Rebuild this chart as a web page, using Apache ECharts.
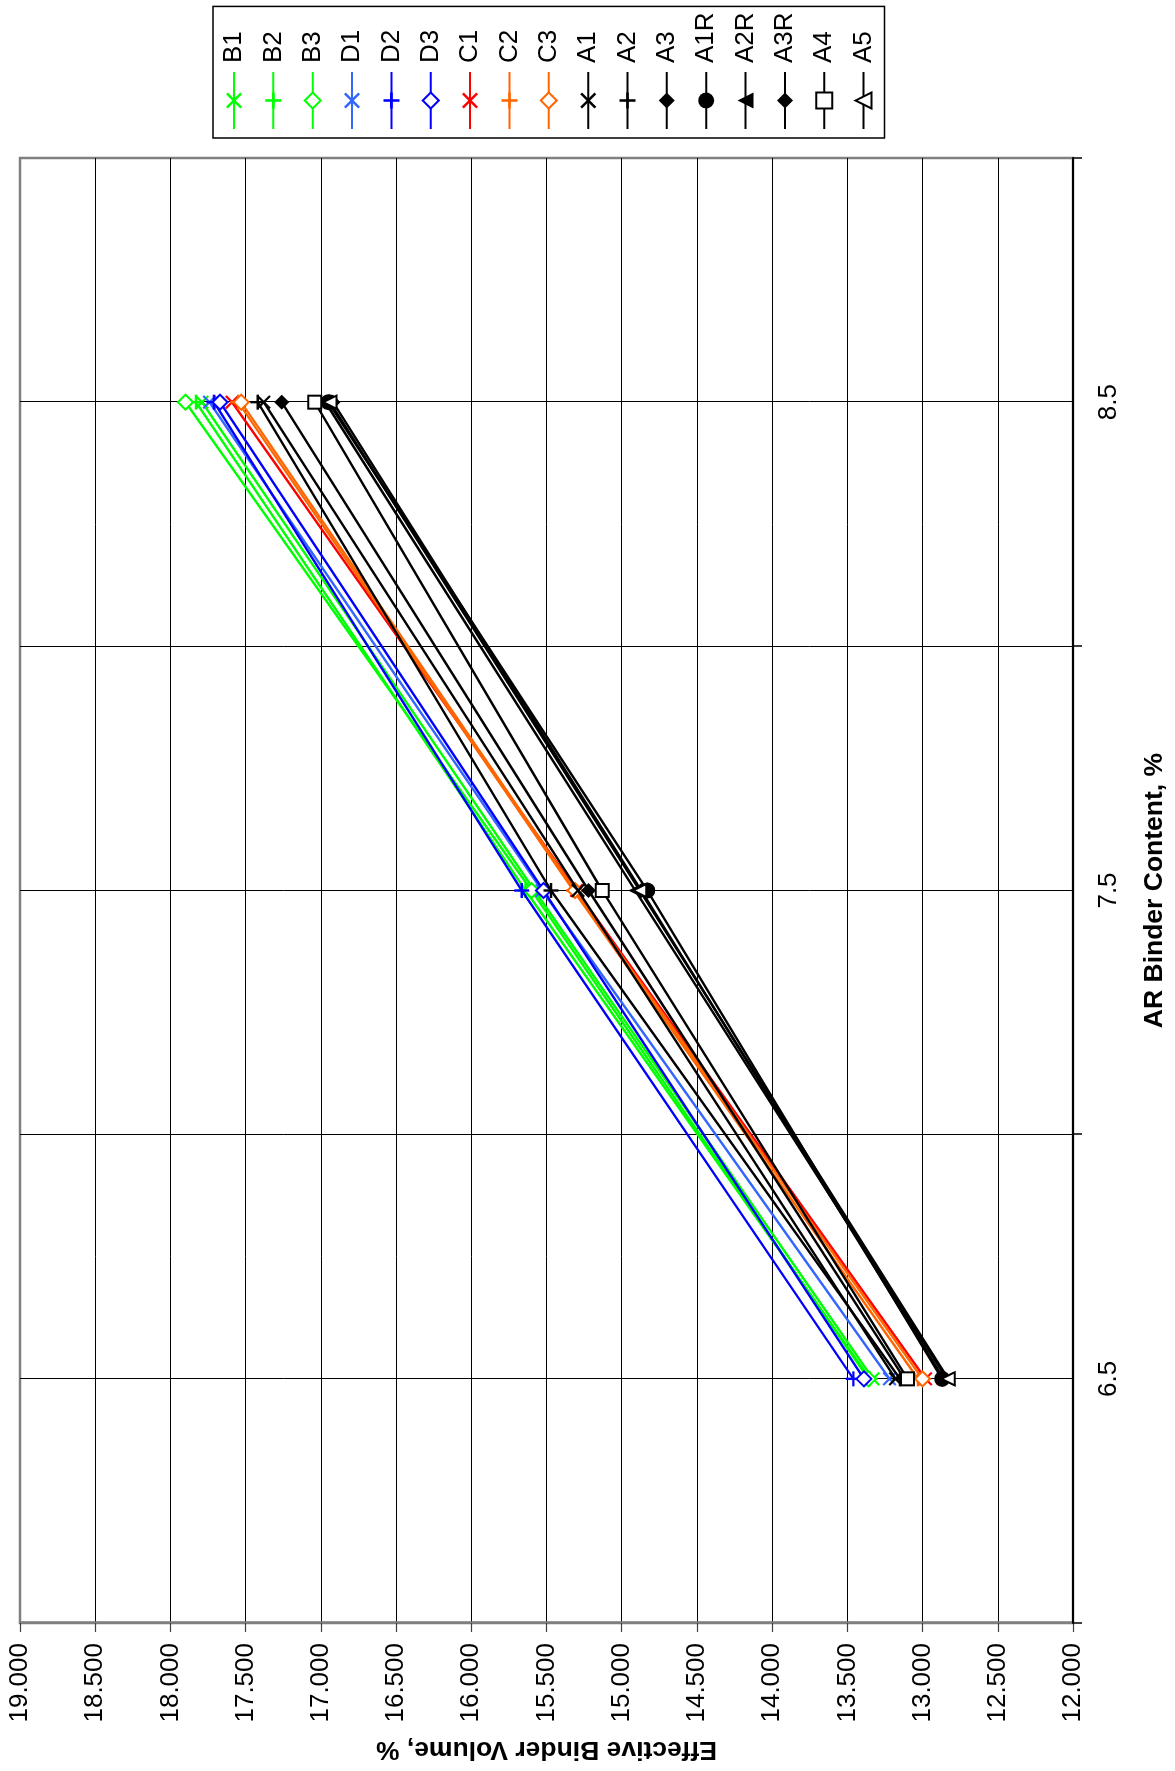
<!DOCTYPE html>
<html>
<head>
<meta charset="utf-8">
<script src="https://cdn.jsdelivr.net/npm/echarts@6/dist/echarts.min.js"></script>
<style>
html,body{margin:0;padding:0;background:#fff;overflow:hidden;width:1175px;height:1771px;}
#wrap{position:absolute;left:0;top:0;width:1771px;height:1175px;transform-origin:0 0;transform:translateY(1771px) rotate(-90deg);}
</style>
</head>
<body>
<div id="wrap"></div>
<script>
// Data
const binderContent = [6.5, 7.5, 8.5];
const xTickLabels = ['6.5', '7.5', '8.5'];
const seriesNames = ['B1','B2','B3','D1','D2','D3','C1','C2','C3','A1','A2','A3','A1R','A2R','A3R','A4','A5'];
const B1 = [13.33, 15.58, 17.79];
const B2 = [13.35, 15.64, 17.83];
const B3 = [13.36, 15.60, 17.90];
const D1 = [13.22, 15.53, 17.74];
const D2 = [13.46, 15.665, 17.71];
const D3 = [13.39, 15.52, 17.67];
const C1 = [12.98, 15.30, 17.59];
const C2 = [13.03, 15.32, 17.55];
const C3 = [13.00, 15.31, 17.53];
const A1 = [13.18, 15.29, 17.38];
const A2 = [13.15, 15.47, 17.42];
const A3 = [13.12, 15.22, 17.26];
const A1R = [12.87, 14.83, 16.95];
const A2R = [12.84, 14.91, 16.97];
const A3R = [12.86, 14.87, 16.92];
const A4 = [13.10, 15.13, 17.04];
const A5 = [12.83, 14.88, 16.94];
const seriesValues = [B1,B2,B3,D1,D2,D3,C1,C2,C3,A1,A2,A3,A1R,A2R,A3R,A4,A5];

const X_PATH = 'path://M0,1.1L1.1,0L5,3.9L8.9,0L10,1.1L6.1,5L10,8.9L8.9,10L5,6.1L1.1,10L0,8.9L3.9,5Z';
const PLUS_PATH = 'path://M4.2,0L5.8,0L5.8,4.2L10,4.2L10,5.8L5.8,5.8L5.8,10L4.2,10L4.2,5.8L0,5.8L0,4.2L4.2,4.2Z';

const GREEN = '#00ff00', LBLUE = '#3366ff', BLUE = '#0000ff', RED = '#ff0000', ORANGE = '#ff6600', BLACK = '#000000';
// style per series: [color, symbol, size, hollow]
const styles = [
  [GREEN, X_PATH, 14, false],
  [GREEN, PLUS_PATH, 15, false],
  [GREEN, 'diamond', 15, true],
  [LBLUE, X_PATH, 14, false],
  [BLUE, PLUS_PATH, 15, false],
  [BLUE, 'diamond', 15, true],
  [RED, X_PATH, 14, false],
  [ORANGE, PLUS_PATH, 15, false],
  [ORANGE, 'diamond', 15, true],
  [BLACK, X_PATH, 14, false],
  [BLACK, PLUS_PATH, 15, false],
  [BLACK, 'diamond', 15, false],
  [BLACK, 'circle', 16, false],
  [BLACK, 'triangle', 14, false],
  [BLACK, 'diamond', 15, false],
  [BLACK, 'rect', 13, true],
  [BLACK, 'triangle', 13, true]
];

const FONT = '"Liberation Sans", Arial, sans-serif';

const series = seriesNames.map((name, k) => {
  const st = styles[k];
  return {
    name: name,
    type: 'line',
    xAxisIndex: 0,
    yAxisIndex: 0,
    data: binderContent.map((b, i) => [b, seriesValues[k][i]]),
    symbol: st[1],
    symbolSize: st[2],
    showSymbol: true,
    lineStyle: { color: st[0], width: 2.4 },
    itemStyle: st[3]
      ? { color: '#ffffff', borderColor: st[0], borderWidth: 2 }
      : { color: st[0], borderWidth: 0 },
    emphasis: { disabled: true },
    z: 2 + k * 0.01
  };
});

const chart = echarts.init(document.getElementById('wrap'), null, { width: 1771, height: 1175, renderer: 'canvas' });
chart.setOption({
  animation: false,
  backgroundColor: '#ffffff',
  grid: {
    left: 147, top: 20, width: 1466, height: 1053,
    show: true, borderColor: '#808080', borderWidth: 2.5, backgroundColor: 'transparent'
  },
  legend: {
    orient: 'vertical',
    left: 1633, top: 213,
    padding: [8, 6, 8, 8],
    itemWidth: 57, itemHeight: 20, itemGap: 13.35,
    borderColor: '#000', borderWidth: 1.5,
    backgroundColor: '#fff',
    data: seriesNames,
    textStyle: { fontFamily: FONT, fontSize: 26, color: '#000', padding: [0, 0, 0, 4] },
    selectedMode: false
  },
  xAxis: [
    {
      type: 'value', position: 'bottom', min: 6, max: 9, interval: 0.5,
      axisLine: { show: true, onZero: false, lineStyle: { color: '#000', width: 2 } },
      axisTick: { show: false },
      axisLabel: {
        fontFamily: FONT, fontSize: 26, color: '#000', margin: 23,
        formatter: function (v) {
          const idx = binderContent.indexOf(Math.round(v * 10) / 10);
          return idx >= 0 ? xTickLabels[idx] : '';
        }
      },
      splitLine: { show: true, showMinLine: false, showMaxLine: false, lineStyle: { color: '#000', width: 1 } },
      name: 'AR Binder Content, %',
      nameLocation: 'middle', nameGap: 68,
      nameTextStyle: { fontFamily: FONT, fontSize: 26.5, fontWeight: 'bold', color: '#000' }
    },
    {
      type: 'value', position: 'bottom', min: 6, max: 9, interval: 1,
      axisLine: { show: false, onZero: false },
      axisTick: { show: true, length: 9, lineStyle: { color: '#000', width: 1.5 } },
      axisLabel: { show: false },
      splitLine: { show: false }
    }
  ],
  yAxis: {
    type: 'value', position: 'left', min: 12, max: 19, interval: 0.5,
    axisLine: { show: true, onZero: false, lineStyle: { color: '#808080', width: 2.5 } },
    axisTick: { show: true, length: 9, lineStyle: { color: '#404040', width: 1.2 } },
    axisLabel: {
      fontFamily: FONT, fontSize: 26, color: '#000', margin: 20,
      formatter: function (v) { return v.toFixed(3); }
    },
    splitLine: { show: true, showMinLine: false, showMaxLine: false, lineStyle: { color: '#000', width: 1 } },
    name: 'Effective Binder Volume, %',
    nameLocation: 'middle', nameGap: 113, nameRotate: 90,
    nameTextStyle: { fontFamily: FONT, fontSize: 26.5, fontWeight: 'bold', color: '#000' }
  },
  series: series
});
</script>
</body>
</html>
